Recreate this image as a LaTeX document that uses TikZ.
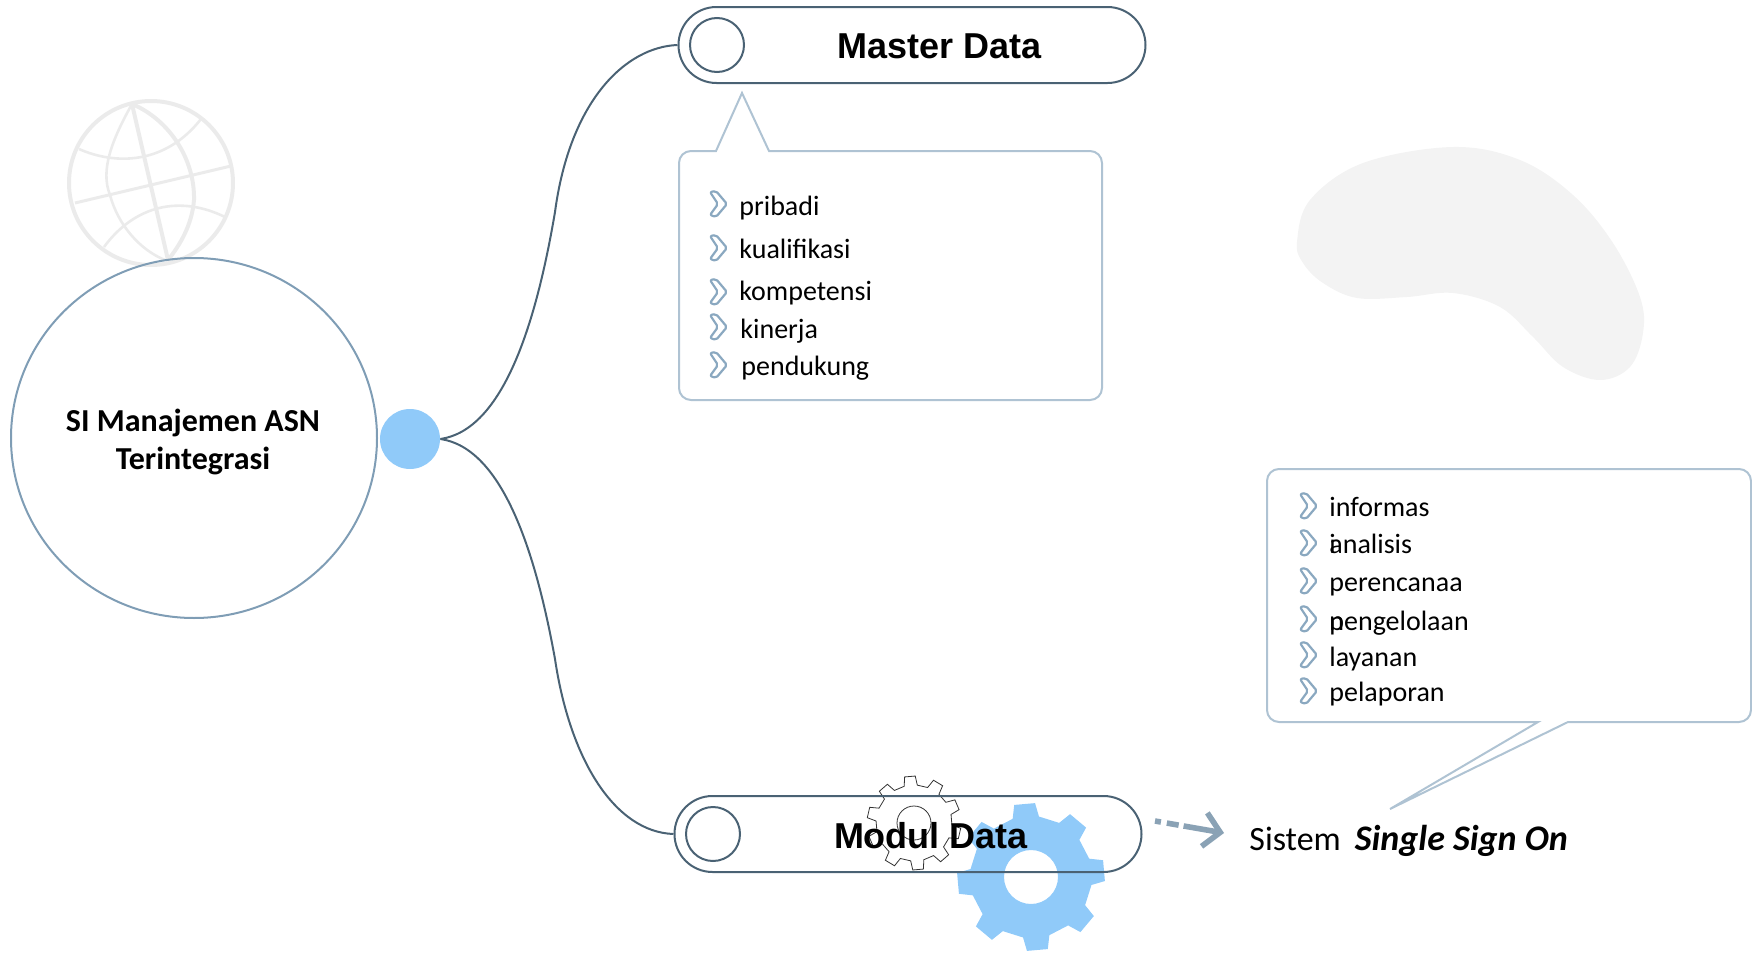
\documentclass[tikz,border=0pt]{standalone}
\usepackage{xcolor}
\usepackage{fontspec}
\usepackage{tikz}
\usetikzlibrary{shapes.geometric,shapes.misc,arrows.meta}
\setmainfont{Carlito}
\newfontfamily\headfont{Liberation Sans}
\definecolor{hubblue}{HTML}{90CAF9}
\definecolor{pilldark}{HTML}{4A6274}
\definecolor{ringblue}{HTML}{7F9DB5}
\definecolor{calloutblue}{HTML}{AFC3D3}
\definecolor{chevblue}{HTML}{8AA8C0}
\definecolor{arrowblue}{HTML}{8AA2B5}
\definecolor{globegrey}{HTML}{EBEBEB}
\definecolor{blobgrey}{HTML}{F3F3F3}
% gear: teeth, outer radius, root radius, hole radius, start angle
\newcommand{\gearpath}[5]{%
  (#5+100/#1:#3)
  \foreach \k [evaluate=\k as \ga using #5+360*\k/#1,
               evaluate=\k as \gb using 100/#1,
               evaluate=\k as \gc using 65/#1] in {1,...,#1}{
    -- (\ga-\gb:#3) -- (\ga-\gc:#2) -- (\ga+\gc:#2) -- (\ga+\gb:#3)
  } -- cycle
  (#4,0) arc (0:360:#4)
}
\tikzset{
  pill/.style={rounded rectangle,draw=pilldark,line width=1pt,minimum width=233.5pt,minimum height=38pt,inner sep=0pt},
  pillring/.style={circle,draw=pilldark,line width=1pt,minimum size=27pt,inner sep=0pt},
  pilltext/.style={font=\headfont\bfseries\fontsize{18}{22}\selectfont,inner sep=0pt},
  itemtext/.style={anchor=base west,font=\fontsize{14}{17}\selectfont,inner sep=0pt},
  calloutline/.style={draw=calloutblue,line width=1pt},
  globeline/.style={draw=globegrey,line width=2pt},
  link/.style={draw=pilldark,line width=1pt},
  chev/.pic={
    \draw[draw=chevblue,line width=1.1pt,rounded corners=1pt,line join=round]
      (-8,-12) -- (-2,-13) -- (9,0) -- (-2,13) -- (-8,11) -- (0,0) -- cycle;
  }
}
\begin{document}
\begin{tikzpicture}[x=0.5pt,y=-0.5pt]
    \useasboundingbox (0,0) rectangle (1752,953);
    %
    % background shapes
    \fill[blobgrey] plot[smooth cycle,tension=0.6] coordinates {(1297,242) (1310,200) (1363,163) (1453,147) (1520,160) (1573,195) (1613,243) (1640,297) (1643,333) (1630,367) (1600,380) (1563,367) (1533,337) (1500,307) (1453,293) (1407,297) (1357,298) (1323,283) (1303,263)};
    %
    % globe
    \draw[globeline] (151,183) circle (82);
    \draw[globeline,line width=1.3pt] (132,104) .. controls (112,140) and (100,170) .. (110,195) .. controls (118,225) and (140,250) .. (165,260);
    \draw[globeline] (132,104) .. controls (170,120) and (195,160) .. (194,200) .. controls (192,225) and (180,245) .. (168,260);
    \draw[globeline] (132,104) -- (168,260);
    \draw[globeline,line width=1.3pt] (79,149) .. controls (115,165) and (165,165) .. (201,119);
    \draw[globeline,line width=1.5pt] (75,203) -- (231,166);
    \draw[globeline,line width=1.3pt] (104,247) .. controls (135,205) and (180,195) .. (225,217);
    %
    % gears
    \begin{scope}[shift={(1031,877)}]
      \fill[hubblue,even odd rule] \gearpath{8}{74}{61}{27}{40};
    \end{scope}
    \begin{scope}[shift={(914,823)}]
      \draw[black!80,line width=0.4pt] \gearpath{10}{47}{38}{17}{13};
    \end{scope}
    %
    % main nodes
    \node[ellipse,draw=ringblue,line width=1pt,minimum width=183pt,minimum height=180pt,inner sep=0pt] (sistem) at (194,438) {};
    \node[align=center,inner sep=0pt,font=\bfseries\fontsize{16}{19}\selectfont] (sistemtext) at (193,442) {SI Manajemen ASN\\Terintegrasi};
    \node[circle,fill=hubblue,minimum size=30pt,inner sep=0pt] (hub) at (410,439) {};
    %
    \node[pill] (master) at (912,45) {};
    \node[pill] (modul) at (908,834) {};
    \node[pillring] (masterring) at (717,45) {};
    \node[pillring] (modulring) at (713,834) {};
    \node[pilltext] (mastertext) at (940,46) {Master Data};
    \node[pilltext] (modultext) at (931,836) {Modul Data};
    %
    % links
    \coordinate (mastermid) at (555,212);
    \coordinate (modulmid) at (555,659);
    \draw[link] (hub.east) .. controls (503,430) and (536,324) .. (mastermid) .. controls (570,100) and (626,47) .. (master.west);
    \draw[link] (hub.east) .. controls (503,448) and (536,554) .. (modulmid) .. controls (570,760) and (615,832) .. (modul.west);
    %
    % callout of master data
    \draw[calloutline] (716,151) [rounded corners=6pt] -- (679,151) -- (679,400) -- (1102,400) -- (1102,151) [sharp corners] -- (769,151) -- (742,93) -- cycle;
    \pic at (718,204) {chev};
    \pic at (718,248) {chev};
    \pic at (718,292) {chev};
    \pic at (718,327) {chev};
    \pic at (718,365) {chev};
    \node[itemtext] (pribadi) at (739,215) {pribadi};
    \node[itemtext] (kualifikasi) at (739,258) {kualifikasi};
    \node[itemtext] (kompetensi) at (739,300) {kompetensi};
    \node[itemtext] (kinerja) at (740,338) {kinerja};
    \node[itemtext] (pendukung) at (741,375) {pendukung};
    %
    % callout of modul data
    \draw[calloutline] (1538,722) [rounded corners=6pt] -- (1267,722) -- (1267,469) -- (1751,469) -- (1751,722) [sharp corners] -- (1568,722) -- (1390,809) -- cycle;
    \pic at (1308,506) {chev};
    \pic at (1308,543) {chev};
    \pic at (1308,581) {chev};
    \pic at (1308,619) {chev};
    \pic at (1308,655) {chev};
    \pic at (1308,691) {chev};
    \node[itemtext] (informas) at (1329,516) {informas};
    \node[itemtext] (informasi) at (1329,553) {i};
    \node[itemtext] (analisis) at (1329,553) {analisis};
    \node[itemtext] (perencanaa) at (1329,591) {perencanaa};
    \node[itemtext] (perencanaan) at (1329,630) {n};
    \node[itemtext] (pengelolaan) at (1329,630) {pengelolaan};
    \node[itemtext] (layanan) at (1329,666) {layanan};
    \node[itemtext] (pelaporan) at (1329,701) {pelaporan};
    %
    % single sign on
    \node[anchor=base west,inner sep=0pt,font=\fontsize{17}{20}\selectfont] (sso) at (1249,850) {Sistem\hspace{7pt}{\fontsize{18}{20}\selectfont\textbf{\textit{Single Sign On}}}};
    \coordinate (ssostart) at (1155,821);
    \coordinate (ssoend) at (1224,833);
    \draw[arrowblue,line width=2.8pt,dash pattern=on 3pt off 3pt on 6pt off 2.5pt on 40pt,-{Straight Barb[length=8pt,width=17pt,line width=2.8pt]}] (ssostart) -- (ssoend);
    %
\end{tikzpicture}
\end{document}
